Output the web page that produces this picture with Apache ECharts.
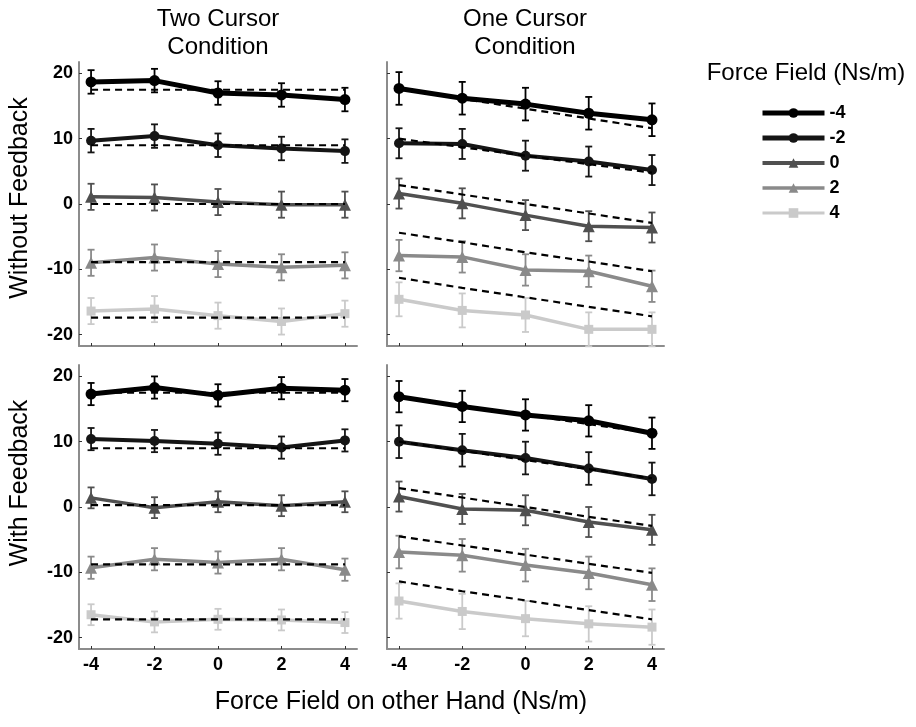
<!DOCTYPE html>
<html>
<head>
<meta charset="utf-8">
<script src="https://cdn.jsdelivr.net/npm/echarts@6/dist/echarts.min.js"></script>
<style>html,body{margin:0;padding:0;background:#fff}#c{width:916px;height:727px}</style>
</head>
<body>
<div id="c"></div>
<script>
// ---- data ----
const forceOther = [-4, -2, 0, 2, 4];
const levels = ['-4', '-2', '0', '2', '4'];
const xTicks = [-4, -2, 0, 2, 4];
const yTicks = [-20, -10, 0, 10, 20];
const panelTitles = ['Two Cursor\nCondition', 'One Cursor\nCondition'];
const rowTitles = ['Without Feedback', 'With Feedback'];
const xTitle = 'Force Field on other Hand (Ns/m)';
const legendTitle = 'Force Field (Ns/m)';

// Two cursor, without feedback (rows = levels -4,-2,0,2,4)
const twoNoFbMean = [
  [18.7, 18.9, 17.0, 16.7, 16.0],
  [9.7, 10.4, 9.0, 8.5, 8.1],
  [1.1, 1.0, 0.3, -0.1, -0.1],
  [-9.0, -8.2, -9.2, -9.7, -9.4],
  [-16.4, -16.1, -17.1, -18.0, -16.8]
];
const twoNoFbPred = [
  [17.5, 17.5, 17.5, 17.5, 17.5],
  [9.0, 9.0, 9.0, 9.0, 9.0],
  [0.0, 0.0, 0.0, 0.0, 0.0],
  [-8.9, -8.9, -8.9, -8.9, -8.9],
  [-17.4, -17.4, -17.4, -17.4, -17.4]
];
const twoNoFbErr = [1.8, 1.8, 2.0, 2.0, 2.0];

// One cursor, without feedback
const oneNoFbMean = [
  [17.7, 16.2, 15.3, 13.9, 12.9],
  [9.3, 9.2, 7.4, 6.5, 5.2],
  [1.6, 0.1, -1.7, -3.4, -3.6],
  [-7.9, -8.1, -10.1, -10.3, -12.6],
  [-14.6, -16.3, -17.0, -19.2, -19.2]
];
const oneNoFbPred = [
  [17.6, 16.1, 14.6, 13.1, 11.6],
  [10.0, 8.7, 7.4, 6.1, 4.8],
  [2.9, 1.45, 0.0, -1.45, -2.9],
  [-4.4, -5.85, -7.4, -8.8, -10.3],
  [-11.3, -12.85, -14.3, -15.75, -17.2]
];
const oneNoFbErr = [2.5, 2.3, 2.3, 2.4, 2.6];

// Two cursor, with feedback
const twoFbMean = [
  [17.3, 18.3, 17.1, 18.2, 17.9],
  [10.4, 10.1, 9.7, 9.1, 10.2],
  [1.4, -0.1, 0.8, 0.2, 0.8],
  [-9.3, -8.0, -8.5, -8.0, -9.6],
  [-16.5, -17.6, -17.2, -17.3, -17.7]
];
const twoFbPred = [
  [17.5, 17.5, 17.5, 17.5, 17.5],
  [9.0, 9.0, 9.0, 9.0, 9.0],
  [0.3, 0.3, 0.3, 0.3, 0.3],
  [-8.8, -8.8, -8.8, -8.8, -8.8],
  [-17.2, -17.2, -17.2, -17.2, -17.2]
];
const twoFbErr = [1.7, 1.7, 1.6, 1.7, 1.6];

// One cursor, with feedback
const oneFbMean = [
  [16.9, 15.4, 14.1, 13.2, 11.3],
  [10.0, 8.7, 7.5, 5.9, 4.3],
  [1.6, -0.3, -0.5, -2.3, -3.5],
  [-6.9, -7.4, -8.9, -10.1, -11.9],
  [-14.4, -16.0, -17.1, -17.9, -18.4]
];
const oneFbPred = [
  [16.9, 15.5, 14.1, 12.7, 11.3],
  [10.0, 8.6, 7.2, 5.8, 4.4],
  [2.9, 1.45, 0.0, -1.5, -2.9],
  [-4.5, -5.9, -7.3, -8.7, -10.1],
  [-11.4, -12.9, -14.3, -15.8, -17.2]
];
const oneFbErr = [2.4, 2.5, 2.3, 2.5, 2.7];

// ---- styles / layout ----
const FONT = '"Liberation Sans", Arial, Helvetica, sans-serif';
const levelColors = ['#000000', '#151515', '#505050', '#8a8a8a', '#cacaca'];
const levelSymbols = ['circle', 'circle', 'triangle', 'triangle', 'rect'];
const levelSymbolSizes = [11, 10, 12, 12, 9];
const levelWidths = [5, 4, 3.5, 3.5, 3.5];
const legendWidths = [5, 5, 4, 3.5, 3];

const grids = [
  { left: 79, top: 62, width: 278, height: 284 },
  { left: 387, top: 62, width: 277, height: 284 },
  { left: 79, top: 365, width: 278, height: 284 },
  { left: 387, top: 365, width: 277, height: 284 }
];
const panels = [
  { mean: twoNoFbMean, pred: twoNoFbPred, err: twoNoFbErr, xLab: false, yLab: true },
  { mean: oneNoFbMean, pred: oneNoFbPred, err: oneNoFbErr, xLab: false, yLab: false },
  { mean: twoFbMean, pred: twoFbPred, err: twoFbErr, xLab: true, yLab: true },
  { mean: oneFbMean, pred: oneFbPred, err: oneFbErr, xLab: true, yLab: false }
];

const axisLineStyle = { color: '#8c8c8c', width: 2 };
const xAxes = [], yAxes = [], series = [];
panels.forEach((p, gi) => {
  xAxes.push({
    type: 'value', gridIndex: gi, min: -4.38, max: 4.38,
    axisLine: { show: true, onZero: false, lineStyle: axisLineStyle },
    axisTick: { show: true, inside: true, length: 3, customValues: xTicks, lineStyle: { color: '#333', width: 1 } },
    axisLabel: { show: p.xLab, customValues: xTicks, margin: 7, fontSize: 18, fontWeight: 'bold', color: '#000', fontFamily: FONT },
    splitLine: { show: false }
  });
  yAxes.push({
    type: 'value', gridIndex: gi, min: -21.75, max: 21.75,
    axisLine: { show: true, onZero: false, lineStyle: axisLineStyle },
    axisTick: { show: true, inside: true, length: 3, customValues: yTicks, lineStyle: { color: '#333', width: 1 } },
    axisLabel: { show: p.yLab, customValues: yTicks, margin: 6, fontSize: 18, fontWeight: 'bold', color: '#000', fontFamily: FONT },
    splitLine: { show: false }
  });
});

// solid series first (so legend picks them up)
panels.forEach((p, gi) => {
  levels.forEach((lv, li) => {
    series.push({
      name: lv, type: 'line', xAxisIndex: gi, yAxisIndex: gi, z: 3,
      data: forceOther.map((x, k) => [x, p.mean[li][k]]),
      symbol: levelSymbols[li], symbolSize: levelSymbolSizes[li],
      lineStyle: { color: levelColors[li], width: levelWidths[li] },
      itemStyle: { color: levelColors[li] },
      emphasis: { disabled: true }, animation: false
    });
  });
});
panels.forEach((p, gi) => {
  levels.forEach((lv, li) => {
    series.push({
      name: 'pred', type: 'line', xAxisIndex: gi, yAxisIndex: gi, z: 4,
      data: forceOther.map((x, k) => [x, p.pred[li][k]]),
      symbol: 'none',
      lineStyle: { color: '#000', width: 2.2, type: [7, 5] },
      emphasis: { disabled: true }, animation: false
    });
    series.push({
      name: 'err', type: 'custom', xAxisIndex: gi, yAxisIndex: gi, z: 2,
      data: forceOther.map((x, k) => [x, p.mean[li][k], p.err[li]]),
      encode: { x: 0, y: 1 },
      renderItem: function (params, api) {
        const x = api.value(0), y = api.value(1), e = api.value(2);
        const t = api.coord([x, y + e]);
        const b = api.coord([x, y - e]);
        const hw = 3.5;
        const st = { stroke: levelColors[li], lineWidth: 1.8, fill: null };
        return {
          type: 'group', children: [
            { type: 'line', shape: { x1: t[0], y1: t[1], x2: b[0], y2: b[1] }, style: st },
            { type: 'line', shape: { x1: t[0] - hw, y1: t[1], x2: t[0] + hw, y2: t[1] }, style: st },
            { type: 'line', shape: { x1: b[0] - hw, y1: b[1], x2: b[0] + hw, y2: b[1] }, style: st }
          ]
        };
      },
      animation: false, silent: true
    });
  });
});

const txt = (text, x, y, size, opts) => Object.assign({
  type: 'text', x: x, y: y,
  style: { text: text, font: size + 'px ' + FONT, fill: '#000', textAlign: 'center', textVerticalAlign: 'middle' }
}, opts || {});

const graphic = [
  { type: 'text', x: 218, y: 5, style: { text: panelTitles[0], font: '24px ' + FONT, fill: '#000', textAlign: 'center', textVerticalAlign: 'top', lineHeight: 28 } },
  { type: 'text', x: 525, y: 5, style: { text: panelTitles[1], font: '24px ' + FONT, fill: '#000', textAlign: 'center', textVerticalAlign: 'top', lineHeight: 28 } },
  txt(rowTitles[0], 20, 198, 25, { rotation: Math.PI / 2 }),
  txt(rowTitles[1], 20, 483, 25, { rotation: Math.PI / 2 }),
  txt(xTitle, 401, 702, 25),
  txt(legendTitle, 806, 73, 24)
];

const chart = echarts.init(document.getElementById('c'), null, { renderer: 'canvas' });
chart.setOption({
  backgroundColor: '#fff',
  animation: false,
  grid: grids,
  xAxis: xAxes,
  yAxis: yAxes,
  series: series,
  graphic: graphic,
  legend: {
    data: levels.map((lv, li) => ({ name: lv, lineStyle: { width: legendWidths[li] } })),
    orient: 'vertical', left: 760, top: 104, padding: 0,
    itemWidth: 62, itemHeight: 12, itemGap: 7,
    textStyle: { fontSize: 18, fontWeight: 'bold', color: '#000', fontFamily: FONT, lineHeight: 18 },
    selectedMode: false
  }
});
</script>
</body>
</html>
